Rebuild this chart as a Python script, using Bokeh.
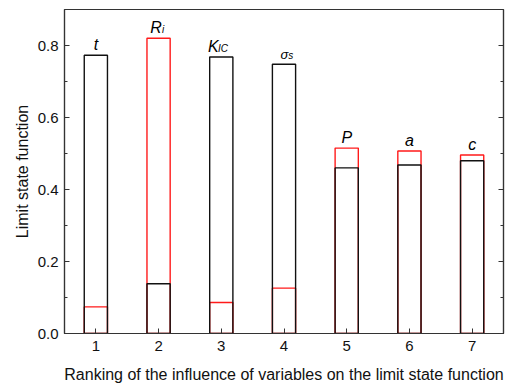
from bokeh.plotting import figure
from bokeh.models import (ColumnDataSource, Range1d, LinearAxis, FixedTicker,
                          NumeralTickFormatter, CustomJSTickFormatter)
from bokeh.core.properties import value
from bokeh.embed import file_html
from bokeh.resources import INLINE

# Ranking positions and the two limit state function values per variable
ranks = [1, 2, 3, 4, 5, 6, 7]
black_vals = [0.773, 0.138, 0.768, 0.748, 0.460, 0.468, 0.480]
red_vals = [0.074, 0.820, 0.086, 0.126, 0.515, 0.507, 0.496]

# Variable symbols drawn above each bar: main letter + subscript
symbols = ["t", "R", "K", "σ", "P", "a", "c"]
subscripts = ["", "i", "IC", "s", "", "", ""]

y_ticks = [0.0, 0.2, 0.4, 0.6, 0.8]
y_minor = [0.1, 0.3, 0.5, 0.7]

FONT = "Liberation Sans"
AXIS_COLOR = "#333333"

p = figure(frame_width=439, frame_height=324, output_backend="svg",
           toolbar_location=None, x_range=Range1d(0.5, 7.5), y_range=Range1d(0, 0.9),
           min_border_left=64, min_border_right=3, min_border_top=9, min_border_bottom=51,
           x_axis_type=None, y_axis_type=None)
p.grid.visible = False
p.background_fill_color = "white"
p.border_fill_color = "white"
p.outline_line_color = AXIS_COLOR
p.outline_line_width = 1.2

# Bars: red series first, black outlines drawn on top with the same width
src = ColumnDataSource(dict(x=ranks, black=black_vals, red=red_vals))
p.vbar(x="x", top="red", bottom=0, width=0.37, source=src,
       fill_color=None, line_color="#ff1a1a", line_width=1.4)
p.vbar(x="x", top="black", bottom=0, width=0.37, source=src,
       fill_color=None, line_color="#111111", line_width=1.4)

# Symbol labels sit just above the taller of the two bars
label_y = [max(b, r) for b, r in zip(black_vals, red_vals)]
main_dx = {"R": -2.5, "K": -8, "σ": 0.5}
sub_dx = {"i": 3.5, "IC": -3.3, "s": 4.3}
main_src = ColumnDataSource(dict(
    x=ranks, y=label_y, text=symbols,
    dx=[main_dx.get(s, 0) for s in symbols],
    size=["13px" if s == "σ" else "16px" for s in symbols],
))
p.text(x="x", y="y", text="text", source=main_src, x_offset="dx", y_offset=-2,
       text_align="center", text_baseline="bottom", text_font=value(FONT),
       text_font_style="italic", text_font_size="size", text_color="black")

sub_idx = [i for i, s in enumerate(subscripts) if s]
sub_src = ColumnDataSource(dict(
    x=[ranks[i] for i in sub_idx], y=[label_y[i] for i in sub_idx],
    text=[subscripts[i] for i in sub_idx],
    dx=[sub_dx[subscripts[i]] for i in sub_idx],
))
p.text(x="x", y="y", text="text", source=sub_src, x_offset="dx", y_offset=-3,
       text_align="left", text_baseline="bottom", text_font=value(FONT),
       text_font_style="italic", text_font_size="10px", text_color="black")

# Axes
def style_axis(ax):
    ax.axis_line_color = AXIS_COLOR
    ax.axis_line_width = 1.2
    ax.major_tick_line_color = AXIS_COLOR
    ax.minor_tick_line_color = AXIS_COLOR
    ax.major_tick_in = 5
    ax.major_tick_out = 0
    ax.minor_tick_in = 3
    ax.minor_tick_out = 0
    ax.major_label_text_font = FONT
    ax.major_label_text_font_size = "15px"
    ax.major_label_text_color = "#111111"
    ax.axis_label_text_font = FONT
    ax.axis_label_text_font_size = "16px"
    ax.axis_label_text_font_style = "normal"
    ax.axis_label_text_color = "#111111"

left = LinearAxis(ticker=FixedTicker(ticks=y_ticks, minor_ticks=y_minor),
                  formatter=NumeralTickFormatter(format="0.0"),
                  axis_label="Limit state function")
style_axis(left)
left.major_label_standoff = 6
left.axis_label_standoff = 4
p.add_layout(left, "left")

right = LinearAxis(ticker=FixedTicker(ticks=y_ticks, minor_ticks=y_minor),
                   formatter=CustomJSTickFormatter(code="return ''"))
style_axis(right)
right.major_label_standoff = 0
right.major_label_text_font_size = "0px"
p.add_layout(right, "right")

bottom = LinearAxis(ticker=FixedTicker(ticks=ranks, minor_ticks=[]),
                    axis_label="Ranking of the influence of variables on the limit state function")
style_axis(bottom)
bottom.major_label_standoff = 7
bottom.axis_label_standoff = 12
p.add_layout(bottom, "below")

open("out.html", "w").write(file_html(p, INLINE))
